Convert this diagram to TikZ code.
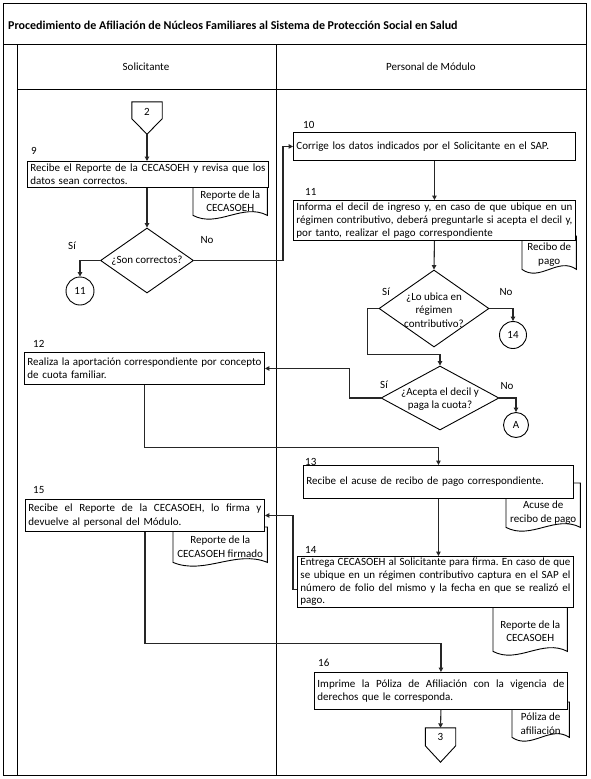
\documentclass[tikz,border=0pt]{standalone}
\usepackage{fontspec}
\setmainfont{Carlito}
\usetikzlibrary{shapes.geometric,arrows.meta,calc}
\newcommand\jl[1]{\leavevmode\hbox to \linewidth{\frenchspacing\spaceskip=2.5pt plus 10pt minus 1.3pt\xspaceskip=\spaceskip #1}\par}
\newcommand\lline[1]{\leavevmode\hbox to \linewidth{#1\hfil}\par}
\newcommand\docshape[2]{%
  \coordinate (tmp) at (0,#2);
  \path[shp] (#1.south west |- tmp) -- (#1.south west)
    .. controls ($(#1.south west)!0.33!(#1.south east)+(0,13)$) and ($(#1.south west)!0.67!(#1.south east)+(0,-13)$) .. (#1.south east)
    -- (#1.south east |- tmp) -- cycle;}
\begin{document}
\begin{tikzpicture}[x=1pt,y=-1pt,
  every node/.style={font=\fontsize{11}{13.3}\selectfont},
  frame/.style={line width=0.9pt},
  box/.style={draw, fill=white, line width=0.9pt, anchor=north west, inner xsep=3pt, inner ysep=0pt},
  num/.style={inner sep=0pt},
  con/.style={line width=1.1pt, draw=black!85},
  arr/.style={con, -{Triangle[length=4.5pt,width=4.5pt]}},
  dia/.style={draw, fill=white, diamond, inner sep=0pt, line width=0.9pt},
  circ/.style={draw, fill=white, circle, inner sep=0pt, line width=0.9pt},
  docn/.style={inner sep=0pt, anchor=north west},
  shp/.style={draw, fill=white, line width=0.9pt},
  offp/.style={inner sep=0pt, minimum width=30pt},
]
\useasboundingbox (0,0) rectangle (590,779);
\fill[white] (0,0) rectangle (590,779);
% frame
\draw[frame] (3,3) rectangle (586,775);
\draw[frame] (3,44) -- (586,44);
\draw[frame] (17,44) -- (17,775);
\draw[frame] (276,44) -- (276,775);
\draw[frame] (17,89) -- (586,89);
\node[anchor=west, inner sep=0pt, font=\fontsize{12}{13}\selectfont\bfseries] (title) at (8,25) {Procedimiento de Afiliación de Núcleos Familiares al Sistema de Protección Social en Salud};
\node (h1) at (146,67) {Solicitante};
\node (h2) at (431,67) {Personal de Módulo};

% documents (behind boxes)
\node[docn, minimum width=74pt, minimum height=28pt] (d9) at (193,187) {};
\docshape{d9}{183}
\node[docn, minimum width=54pt, minimum height=29pt] (d11) at (522,240) {};
\docshape{d11}{236}
\node[docn, minimum width=74pt, minimum height=29pt] (d13) at (506,498) {};
\docshape{d13}{483}
\node[docn, minimum width=74pt, minimum height=42pt] (d14) at (493,609) {};
\docshape{d14}{602}
\node[docn, minimum width=94pt, minimum height=31pt] (d15) at (173,531) {};
\docshape{d15}{527}
\node[docn, minimum width=57pt, minimum height=27pt] (d16) at (512,710) {};
\docshape{d16}{702}
\node[align=center] (d9l) at (d9) {Reporte de la\\CECASOEH};
\node[align=center] (d11l) at (d11) {Recibo de\\pago};
\node[align=center] (d13l) at (d13) {Acuse de\\recibo de pago};
\node[align=center] (d14l) at ([yshift=-1pt]d14) {Reporte de la\\CECASOEH};
\node[align=center] (d15l) at (d15) {Reporte de la\\CECASOEH firmado};
\node[align=center] (d16l) at (d16) {Póliza de\\afiliación};

% off-page connectors
\node[offp, minimum height=32pt] (p2) at (147,118) {};
\draw[shp] (p2.north west) -- (p2.north east) -- ([yshift=-17pt]p2.north east) -- (p2.south) -- ([yshift=-17pt]p2.north west) -- cycle;
\node (p2t) at (147,112) {2};
\node[offp, minimum height=34pt] (p3) at (440.5,745) {};
\draw[shp] (p3.north west) -- (p3.north east) -- ([yshift=-18pt]p3.north east) -- (p3.south) -- ([yshift=-18pt]p3.north west) -- cycle;
\node (p3t) at (440.5,737) {3};

% process boxes
\node[num, anchor=west] (n9) at (31,151) {9};
\node[box, minimum width=241pt, minimum height=26pt, text width=235pt] (b9) at (27,161)
  {\jl{Recibe el Reporte de la CECASOEH y revisa que los}\lline{datos sean correctos.}};
\node[num, anchor=west] (n10) at (303,125) {10};
\node[box, minimum width=282pt, minimum height=28pt, text width=276pt] (b10) at (293,132)
  {\lline{Corrige los datos indicados por el Solicitante en el SAP.}};
\node[num, anchor=west] (n11) at (305,192) {11};
\node[box, minimum width=282pt, minimum height=40pt, text width=276pt] (b11) at (293,200)
  {\jl{Informa el decil de ingreso y, en caso de que ubique en un}\jl{régimen contributivo, deberá preguntarle si acepta el decil y,}\lline{por tanto, realizar el pago correspondiente}};
\node[num, anchor=west] (n12) at (33,344) {12};
\node[box, minimum width=240pt, minimum height=32pt, text width=234pt] (b12) at (24,352)
  {\jl{Realiza la aportación correspondiente por concepto}\lline{de cuota familiar.}};
\node[num, anchor=west] (n13) at (305,462) {13};
\node[box, minimum width=270pt, minimum height=33pt, text width=264pt] (b13) at (303,465)
  {\lline{Recibe el acuse de recibo de pago correspondiente.}};
\node[num, anchor=west] (n14) at (305,550) {14};
\node[box, minimum width=276pt, minimum height=48pt, text width=270pt, inner ysep=1.2pt,
      font=\fontsize{11}{12.9}\selectfont] (b14) at (297,556)
  {\jl{Entrega CECASOEH al Solicitante para firma. En caso de que}\jl{se ubique en un régimen contributivo captura en el SAP el}\jl{número de folio del mismo y la fecha en que se realizó el}\lline{pago.}};
\node[num, anchor=west] (n15) at (33,490) {15};
\node[box, minimum width=239pt, minimum height=32pt, text width=233pt] (b15) at (25,499)
  {\jl{Recibe el Reporte de la CECASOEH, lo firma y}\lline{devuelve al personal del Módulo.}};
\node[num, anchor=west] (n16) at (318,663) {16};
\node[box, minimum width=253pt, minimum height=37pt, text width=247pt] (b16) at (314,672)
  {\jl{Imprime la Póliza de Afiliación con la vigencia de}\lline{derechos que le corresponda.}};

% decisions
\node[dia, minimum width=93pt, minimum height=65pt] (dc1) at (147,260.5) {};
\node (dc1t) at (147,261) {¿Son correctos?};
\node[dia, minimum width=110pt, minimum height=77pt] (dc2) at (434,308.5) {};
\node[align=center] (dc2t) at (434,310) {¿Lo ubica en\\régimen\\contributivo?};
\node[dia, minimum width=118pt, minimum height=64pt] (dc3) at (440,398) {};
\node[align=center] (dc3t) at (440,399) {¿Acepta el decil y\\paga la cuota?};

% connectors (circles)
\node[circ, minimum size=28pt] (c11) at (80,291) {11};
\node[circ, minimum size=27pt] (c14) at (513,335) {14};
\node[circ, minimum size=25pt] (cA) at (516,425) {A};

% branch labels
\node[num] (s1) at (72,246) {Sí};
\node[num] (o1) at (207,240) {No};
\node[num] (s2) at (386,292) {Sí};
\node[num] (o2) at (506,292) {No};
\node[num] (s3) at (384,385) {Sí};
\node[num] (o3) at (507,386) {No};

% flow
\draw[arr] (p2.south) -- (p2.south |- b9.north);
\draw[arr] (dc1.north |- b9.south) -- (dc1.north);
\draw[arr] (dc1.west) -| (c11.north);
\draw[arr] (dc1.east) -- ++(89,0) |- (b10.west);
\draw[arr] (b10.south) -- (b11.north);
\draw[arr] (b11.south) -- (dc2.north);
\draw[arr] (dc2.east) -| (c14.north);
\draw[arr] (dc2.west) -- ++(-11,0) |- ($(dc3.north)+(0,-11)$) -- (dc3.north);
\draw[arr] (dc3.east) -| (cA.north);
\draw[arr] (dc3.west) -- ++(-31,0) |- (b12.east);
\draw[arr] (b12.south) -- ++(0,63) -| (b13.north);
\draw[arr] (b13.south) -- (b13.south |- b14.north);
\draw[arr] ([yshift=-8pt]b14.west) -- ++(-4,0) |- (b15.east);
\draw[arr] (b15.south) -- ++(0,112) -| (b16.north);
\draw[arr] (b16.south) -- (p3.north);
\end{tikzpicture}
\end{document}
